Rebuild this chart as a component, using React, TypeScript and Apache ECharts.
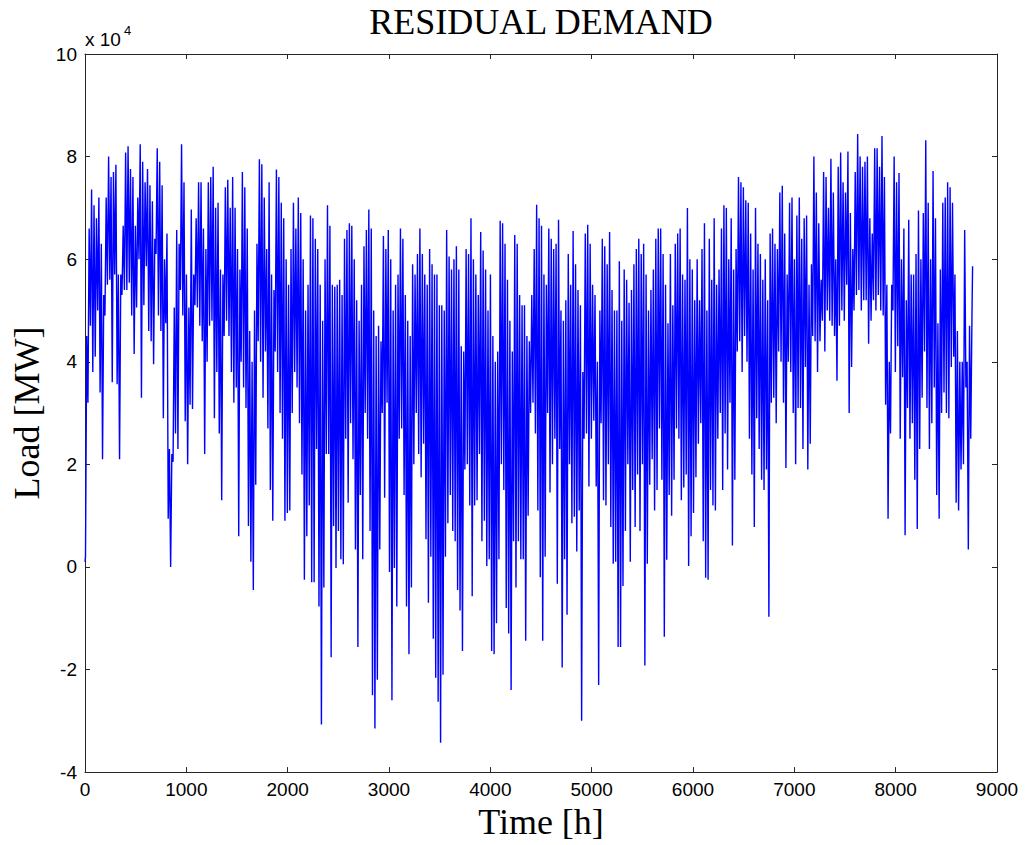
import React, { useEffect, useRef } from "react";
import * as echarts from "echarts";

// Residual demand: one daily low and one daily high per day (thousand MW)
const START_KMW = 1;
const END_KMW = 58.6;

const DAILY_TROUGH_KMW = [
  // days 0-46
  2, 32, 47, 38, 41, 50, 34, 21, 49, 55, 56, 36, 57, 35.6, 21, 53, 54, 54, 55.4, 49, 41.5, 50.6, 60, 33, 51, 58.6, 46, 44, 39.5, 61, 49, 46, 29, 47.5, 9.4, 0, 20.5, 26, 23, 54, 49, 28.4, 20, 31.6, 30.8, 51, 50.6,
  // days 47-93
  47, 44, 22, 40, 47, 48, 29, 38, 26, 13, 45, 48, 45, 38, 32, 35, 6, 40, 35, 31, 8, 1, -4.5, 16, 44, 40, 33, 42, 27, 15, 9, 42, 38, 30, 25, 9, 10.5, 11, 30, 38, 35, 28, 18, -2.5, 6, 12, -3,
  // days 94-140
  -3, 23, -7.7, -30.7, -4, 22, 22, -17.6, 8, -0.2, 7, 1.5, 0.5, 25, 12.5, 28, 21, 3.4, -15.6, 14, 1.5, 30, 25, 7, -25, -31.5, -22, 3.4, 30, 13.5, 32, -1, -26, -0.2, -7.7, 25, 27, 14, -7.7, -17, -4, 20, 30, 22, 17.5, 24, 5.4,
  // days 141-188
  -7, 2, -14, -21.6, -26.3, -34.3, -21, 2, 8.5, 14, 7, 5, -4.5, -8.5, -16.4, 19, 20, 12, -5.7, 12, 13, 22, 5, 9, 0.2, 1.5, -16.4, -17, -11, 1.5, 20, 15, -8, -13, -24, 5, -4, 5, 1.5, 1.5, -14.4, 10, 30, 32, 26, 11, -2, -14.4,
  // days 189-235
  2, 30, 14.5, 20, 25, -3.3, 23, -19.6, 1.5, -9.3, 20, 8.5, 9.8, 3, 11, -30, 25, 26, 15.7, 25, 28.5, 15.7, -23, 28, 13, 12, 20, 7.8, 0.6, 1, -15.6, -15.6, -3.7, 7, 20, 1, 15, 7.8, 18, 7, 20, -19.2, 0.6, 16, 21, 11, 15,
  // days 236-282
  27, 17, -13.6, 1.4, 14, 10, 17, 27, 25, 13, 15.5, 18, 0.2, 6, 10.5, 17.5, 24, 28, 5, -2.1, -2.5, 15, 12, 11, 25, 30, 15, 26, 19, 32, 4.2, 17, 42, 44, 38, 45, 40, 25, 18, 7.8, 29, 23, 17, 15, 19, -9.7, 32,
  // days 283-330
  33, 28, 42, 40, 32, 19.3, 40, 38, 30, 20, 31, 31, 23, 39, 19, 24, 45, 44, 38, 44, 48, 42, 50, 48, 47, 45, 36.3, 47, 50, 48, 55, 30, 39, 50, 53, 54, 50, 52, 52, 43.5, 48, 52, 50, 53, 50, 49, 31.6, 9.4,
  // days 331-364
  26, 50, 38, 43, 25, 37, 6.2, 31, 25, 28, 17, 7.4, 23, 33, 42, 31, 23, 28, 35, 14, 9.4, 30, 34, 30, 29, 39, 41, 12.5, 11, 19, 20, 35, 3.4, 25,
];

const DAILY_PEAK_KMW = [
  // days 0-46
  45, 66, 73.6, 70.5, 68, 72, 63, 53, 72, 80, 76, 77, 78.4, 57, 57, 66.5, 80.8, 82, 77.6, 76, 66.5, 72, 82.4, 79, 75, 77.6, 74.4, 71.3, 64, 81.6, 79, 74.4, 60, 65, 23, 22, 50.6, 65.7, 63, 82.4, 75, 57, 50.6, 69.7, 57, 68, 75,
  // days 47-93
  75, 66, 62, 75, 76, 78, 70, 71, 58, 57, 74, 75.5, 70, 76, 70, 62, 58, 77, 74, 66, 46, 40, 50, 63, 79.5, 78.5, 72, 62, 75, 57, 54, 77.5, 76, 71, 68, 60, 55, 62, 71, 66, 72, 69, 60, 50, 55, 68.5, 68,
  // days 94-140
  64, 62, 55, 48, 60, 70.5, 66.5, 55, 54.6, 55, 56, 53, 64, 65.7, 67, 66.5, 60, 52, 48, 55, 62.5, 65.7, 69.7, 66, 50, 45, 47, 44, 64.5, 62, 65.7, 60, 50, 55, 57, 66, 64, 53, 48, 45, 59, 57, 61, 66, 61, 57, 55,
  // days 141-188
  62, 59, 57, 57, 51, 51, 50, 65.7, 60.5, 58, 60, 62.5, 58, 43, 42, 62, 61, 68, 60, 57, 53, 65.3, 61.7, 58, 50, 57, 45, 40, 42, 67.5, 67, 63, 56, 48, 42, 64.7, 63, 53, 51, 51, 45, 44, 53, 62, 70.6, 68, 66.5, 57,
  // days 189-235
  55, 66, 64, 62, 63, 67.7, 50, 48, 52, 61, 55, 65.5, 59, 54, 51, 38, 65, 66.7, 63, 55, 53, 40, 50, 64, 62.5, 59, 65.3, 54, 50, 50, 59.6, 48, 58, 56, 51.5, 54, 59, 62, 64, 61, 63, 57, 50, 54, 58, 64, 66,
  // days 236-282
  66, 61, 55, 47.5, 61, 51, 63, 65, 66, 57, 56, 70, 60, 58, 52, 60, 52, 62, 67, 50, 64, 56, 68, 55, 58, 66, 70.5, 70, 60, 68, 58, 62, 76, 75, 74, 71.5, 71, 65, 58, 70, 63, 61, 56, 60, 52, 65, 66,
  // days 283-330
  63, 62, 73, 74.3, 65, 57, 71, 72, 60, 68.5, 72, 64, 68, 68.5, 55, 59, 80, 73, 67, 56, 77, 76, 70, 79.6, 73, 60, 78, 80.8, 75, 73, 81, 69, 62, 77, 84.4, 80, 78, 79, 80, 68, 65, 81.6, 81.6, 78, 84, 76, 55, 40,
  // days 331-364
  55, 80, 75, 76.8, 60, 66, 52, 67.7, 57, 57, 61, 69.5, 60, 69, 83.2, 71, 60, 77.2, 68, 47.5, 58, 71, 72, 75, 74, 71, 57, 46, 40, 40, 65.7, 40, 47, 49,
];

const X_TICKS = { min: 0, max: 9000, step: 1000 };
const Y_TICKS = { min: -40000, max: 100000, step: 20000 };
const Y_SCALE = 10000;

const HOURS_PER_DAY = 24;
const TROUGH_HOUR = 5;
const PEAK_HOUR = 17;
const LAST_HOUR = 8759;
const KMW = 1000;

function buildSeries(): [number, number][] {
  const pts: [number, number][] = [[0, START_KMW * KMW]];
  for (let d = 0; d < DAILY_PEAK_KMW.length; d++) {
    pts.push([d * HOURS_PER_DAY + TROUGH_HOUR, DAILY_TROUGH_KMW[d] * KMW]);
    pts.push([d * HOURS_PER_DAY + PEAK_HOUR, DAILY_PEAK_KMW[d] * KMW]);
  }
  pts.push([LAST_HOUR, END_KMW * KMW]);
  return pts;
}

const FRAME = "#262626";
const SANS = "'Liberation Sans', Arial, Helvetica, sans-serif";
const SERIF = "'Liberation Serif', 'Times New Roman', serif";

export default function App() {
  const ref = useRef<HTMLDivElement>(null);

  useEffect(() => {
    if (!ref.current) return;
    const chart = echarts.init(ref.current, undefined, { renderer: "svg" });

    const axisCommon = {
      axisLine: { show: true, onZero: false, lineStyle: { color: FRAME, width: 1 } },
      axisTick: { show: true, inside: true, length: 5, lineStyle: { color: FRAME, width: 1 } },
      splitLine: { show: false },
    };

    chart.setOption({
      animation: false,
      backgroundColor: "#ffffff",
      grid: { left: 85, top: 54, width: 912, height: 719, containLabel: false },
      graphic: [
        {
          type: "text",
          style: {
            text: "RESIDUAL DEMAND",
            x: 541,
            y: 22,
            textAlign: "center",
            textVerticalAlign: "middle",
            font: `36px ${SERIF}`,
            fill: "#000",
          },
        },
        {
          type: "text",
          style: {
            text: "x 10",
            x: 85,
            y: 39,
            textAlign: "left",
            textVerticalAlign: "middle",
            font: `19px ${SANS}`,
            fill: "#000",
          },
        },
        {
          type: "text",
          style: {
            text: "4",
            x: 124,
            y: 30,
            textAlign: "left",
            textVerticalAlign: "middle",
            font: `13px ${SANS}`,
            fill: "#000",
          },
        },
      ],
      xAxis: [
        {
          type: "value",
          position: "bottom",
          min: X_TICKS.min,
          max: X_TICKS.max,
          interval: X_TICKS.step,
          ...axisCommon,
          axisLabel: {
            color: "#000",
            fontSize: 19,
            fontFamily: SANS,
            margin: 8,
            formatter: (v: number) => String(v),
          },
          name: "Time [h]",
          nameLocation: "middle",
          nameGap: 31,
          nameTextStyle: { color: "#000", fontSize: 36, fontFamily: SERIF },
        },
        {
          type: "value",
          position: "top",
          min: X_TICKS.min,
          max: X_TICKS.max,
          interval: X_TICKS.step,
          ...axisCommon,
          axisLabel: { show: false },
        },
      ],
      yAxis: [
        {
          type: "value",
          position: "left",
          min: Y_TICKS.min,
          max: Y_TICKS.max,
          interval: Y_TICKS.step,
          ...axisCommon,
          axisLabel: {
            color: "#000",
            fontSize: 19,
            fontFamily: SANS,
            margin: 8,
            formatter: (v: number) => String(Math.round(v / Y_SCALE)),
          },
          name: "Load [MW]",
          nameLocation: "middle",
          nameGap: 37,
          nameTextStyle: { color: "#000", fontSize: 36, fontFamily: SERIF },
        },
        {
          type: "value",
          position: "right",
          min: Y_TICKS.min,
          max: Y_TICKS.max,
          interval: Y_TICKS.step,
          ...axisCommon,
          axisLabel: { show: false },
        },
      ],
      series: [
        {
          type: "line",
          xAxisIndex: 0,
          yAxisIndex: 0,
          data: buildSeries(),
          showSymbol: false,
          symbol: "none",
          lineStyle: { color: "#0000ff", width: 1.4 },
          silent: true,
        },
      ],
    });

    return () => chart.dispose();
  }, []);

  return (
    <div
      ref={ref}
      style={{ position: "absolute", left: 0, top: 0, width: 1025, height: 845, background: "#fff" }}
    />
  );
}
